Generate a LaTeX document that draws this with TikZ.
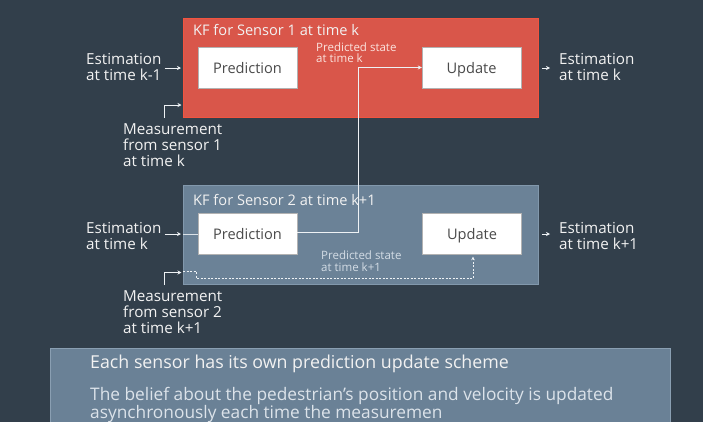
\documentclass[tikz,border=0pt]{standalone}
\usepackage{fontspec}
\setmainfont{Open Sans}
\usetikzlibrary{arrows.meta,calc}
\definecolor{bgc}{HTML}{323F4B}
\definecolor{redfill}{HTML}{D9564A}
\definecolor{redline}{HTML}{F2543F}
\definecolor{bluefill}{HTML}{6B8297}
\definecolor{blueline}{HTML}{8298AC}
\definecolor{txt}{HTML}{F2F2F2}
\definecolor{boxtxt}{HTML}{4A4A4A}
\definecolor{pinktxt}{HTML}{FBE3DE}
\definecolor{bluetxt}{HTML}{D3DCE5}
\definecolor{linec}{HTML}{EEF2F5}
\definecolor{notefill}{HTML}{6A8196}
\definecolor{noteline}{HTML}{8A9FB2}
\definecolor{notetxt2}{HTML}{DCE3EA}
\tikzset{
  kfbox/.style={anchor=north west, minimum width=355pt, minimum height=99pt, inner sep=0pt, line width=1pt},
  stepbox/.style={draw=gray!60, fill=white, minimum width=99pt, minimum height=41pt, inner sep=0pt, text height=11pt, text depth=0pt, text=boxtxt, font=\fontsize{14.6}{16}\selectfont},
  lbl/.style={anchor=west, align=left, inner sep=0pt, text=txt, font=\fontsize{15.2}{16}\selectfont},
  small/.style={anchor=west, align=left, inner sep=0pt, font=\fontsize{11.5}{11.5}\selectfont},
  ttl/.style={anchor=west, inner sep=0pt, text=txt, font=\fontsize{14.6}{16}\selectfont},
  arr/.style={draw=linec, line width=0.9pt, -{Stealth[length=4pt,width=4pt]}},
  plain/.style={draw=linec!85!bluefill, line width=0.9pt},
  dsh/.style={draw=linec, line width=0.8pt, dash pattern=on 2pt off 1.5pt},
}
\begin{document}
\begin{tikzpicture}[x=1pt,y=-1pt]
\useasboundingbox (0,0) rectangle (703,421);
\clip (0,0) rectangle (703,421);
\fill[bgc] (-5,-5) rectangle (710,430);

% KF boxes
\node[kfbox, draw=redline, fill=redfill] (kf1) at (183,18) {};
\node[kfbox, draw=blueline, fill=bluefill] (kf2) at (183,184.5) {};
\node[ttl] (t1) at (193,29.5) {KF for Sensor 1 at time k};
\node[ttl] (t2) at (193,200) {KF for Sensor 2 at time k+1};

% step boxes
\node[stepbox] (p1) at (247.5,67.5) {Prediction};
\node[stepbox] (u1) at (471.5,67.5) {Update};
\node[stepbox] (p2) at (247.5,234) {Prediction};
\node[stepbox] (u2) at (472,234) {Update};

% labels
\node[lbl] (e0) at (86,67) {Estimation\\at time k-1};
\node[lbl] (e1) at (559,67) {Estimation\\at time k};
\node[lbl] (e1b) at (86,236) {Estimation\\at time k};
\node[lbl] (e2) at (559,236) {Estimation\\at time k+1};
\node[lbl] (m1) at (123,145) {Measurement\\from sensor 1\\at time k};
\node[lbl] (m2) at (123,312) {Measurement\\from sensor 2\\at time k+1};
\node[small, text=pinktxt] (ps1) at (316,52.5) {Predicted state\\at time k};
\node[small, text=bluetxt] (ps2) at (321,261) {Predicted state\\at time k+1};

% connectors sensor 1
\draw[arr] ([xshift=3pt]e0.east |- kf1.west) -- ([xshift=-2pt]kf1.west);
\draw[arr] ([xshift=3pt]kf1.east) -- ([xshift=-9pt]e1.west |- kf1.east);
\coordinate (m1c) at (164,118);
\draw[arr] (m1c) |- ([xshift=-1.5pt,yshift=13pt]kf1.south west);

% connectors sensor 2
\draw[arr] ([xshift=3pt]e0.east |- p2.west) -- ([xshift=-2pt]kf2.west |- p2.west);
\draw[plain] (kf2.west |- p2.west) -- (p2.west);
\coordinate (bend) at (358.5,232);
\draw[arr] (p2.east |- bend) -- (bend) |- (u1.west);
\draw[arr] ([xshift=3pt]kf2.east |- u2.east) -- ([xshift=-9pt]e2.west |- u2.east);
\coordinate (m2c) at (164,285);
\draw[arr] (m2c) |- ([xshift=-1.5pt,yshift=12pt]kf2.south west);
\coordinate (d1) at (196,271);
\coordinate (d2) at (473,278);
\draw[dsh, -{Stealth[length=3.5pt,width=3.5pt]}] (kf2.south west |- d1) -- (d1) -- (d1 |- d2) -- (d2) -- ([yshift=-2pt]u2.south -| d2);

% note box
\node[draw=noteline, fill=notefill, line width=1pt, anchor=north west, minimum width=620pt, minimum height=90pt, inner sep=0pt] (note) at (50,348) {};
\node[anchor=west, inner sep=0pt, text=txt, font=\fontsize{17.8}{18}\selectfont] (n1) at (90,364) {Each sensor has its own prediction update scheme};
\node[anchor=north west, align=left, inner sep=0pt, text=notetxt2, font=\fontsize{17.3}{16}\selectfont] (n2) at (90,387) {The belief about the pedestrian’s position and velocity is updated\\asynchronously each time the measuremen};
\end{tikzpicture}
\end{document}
